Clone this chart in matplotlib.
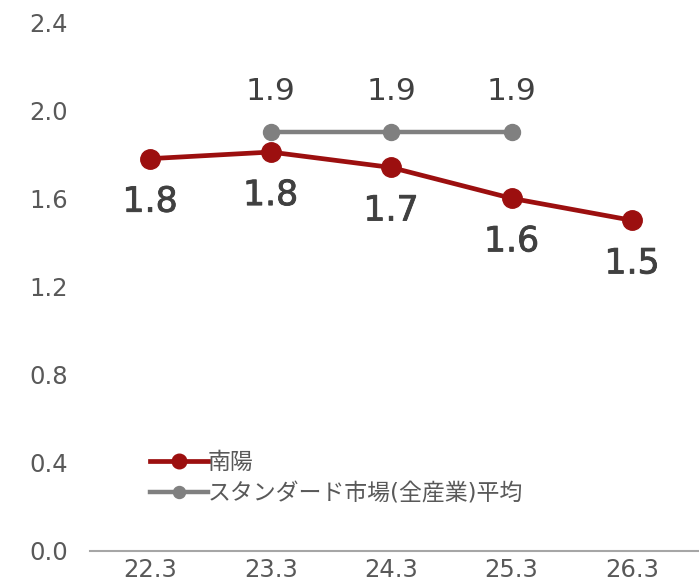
import matplotlib.pyplot as plt
import matplotlib.patheffects as pe

plt.rcParams['font.family'] = ['DejaVu Sans', 'Noto Sans CJK JP']

# data
categories = ['22.3', '23.3', '24.3', '25.3', '26.3']
nanyo = [1.78, 1.81, 1.74, 1.60, 1.50]
nanyo_labels = ['1.8', '1.8', '1.7', '1.6', '1.5']
std_idx = [1, 2, 3]
std_avg = [1.9, 1.9, 1.9]
std_labels = ['1.9', '1.9', '1.9']
yticks = [0.0, 0.4, 0.8, 1.2, 1.6, 2.0, 2.4]

red = '#9c0f0f'
gray = '#808080'
text_col = '#404040'

fig = plt.figure(figsize=(6.99, 5.82), dpi=100)
ax = fig.add_axes([90 / 699, 31 / 582, 609 / 699, 529 / 582])

x = list(range(len(categories)))
ax.plot(x, nanyo, color=red, lw=3.4, marker='o', ms=14, label='南陽', zorder=3)
ax.plot(std_idx, std_avg, color=gray, lw=3.2, marker='o', ms=11.5,
        label='スタンダード市場(全産業)平均', zorder=2)

# red labels a bit heavier than the grey ones
heavy = [pe.withStroke(linewidth=0.6, foreground=text_col)]
for xi, v, t in zip(x, nanyo, nanyo_labels):
    ax.annotate(t, (xi, v), xytext=(0, -31), textcoords='offset points',
                ha='center', va='center', fontsize=25, color=text_col,
                path_effects=heavy)
for xi, v, t in zip(std_idx, std_avg, std_labels):
    ax.annotate(t, (xi, v), xytext=(0, 29), textcoords='offset points',
                ha='center', va='center', fontsize=22.5, color=text_col)

ax.set_xlim(-0.5, 4.555)
ax.set_ylim(0, 2.4)
ax.set_xticks(x)
ax.set_xticklabels(categories)
ax.set_yticks(yticks)
ax.set_yticklabels([f'{v:.1f}' for v in yticks])
ax.tick_params(axis='both', length=0, labelsize=17.5, labelcolor='#595959')
ax.tick_params(axis='y', pad=16)
ax.tick_params(axis='x', pad=5)

for s in ['top', 'right', 'left']:
    ax.spines[s].set_visible(False)
ax.spines['bottom'].set_color('#a6a6a6')
ax.spines['bottom'].set_linewidth(1.5)

ax.legend(loc='upper left', bbox_to_anchor=(0.065, 0.228), frameon=False,
          fontsize=16.5, handlelength=2.5, handletextpad=0.0, labelspacing=0.35,
          markerscale=0.75, labelcolor='#595959')

fig.savefig('out.png', dpi=100)
